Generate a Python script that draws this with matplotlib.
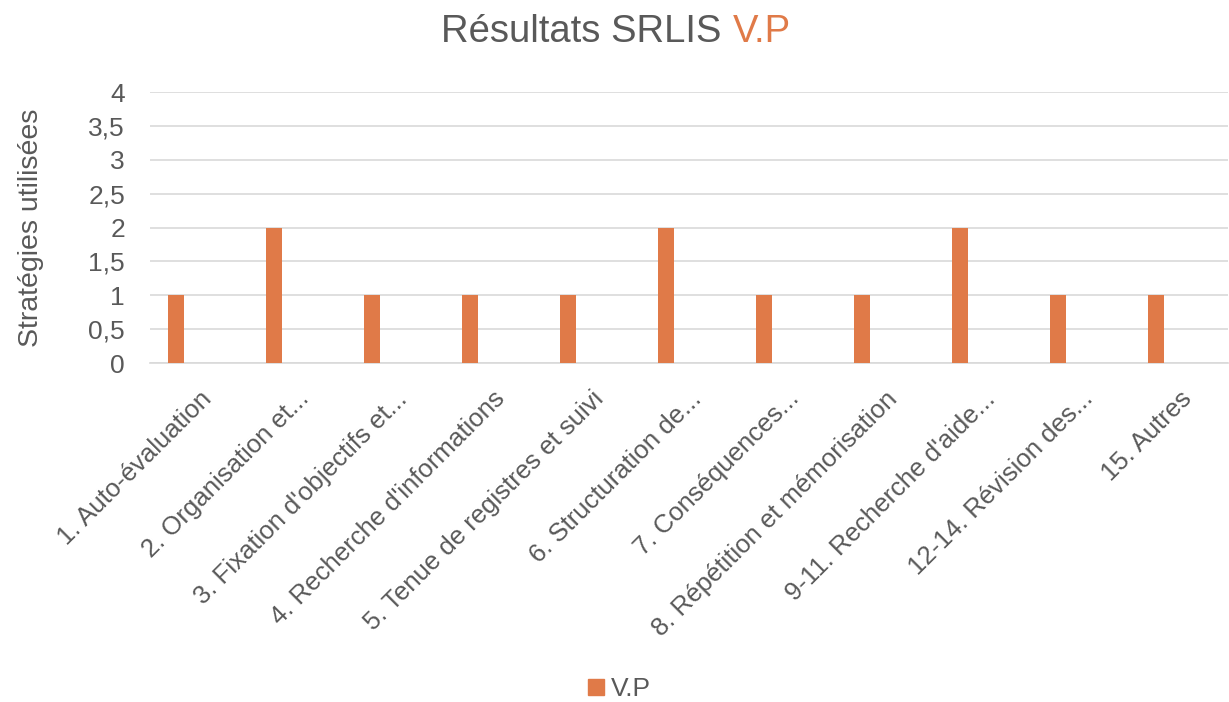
import numpy as np
import matplotlib
matplotlib.use("Agg")
from matplotlib import pyplot as plt
from matplotlib.patches import Patch

# data
categories = [
    "1. Auto-évaluation",
    "2. Organisation et...",
    "3. Fixation d'objectifs et...",
    "4. Recherche d'informations",
    "5. Tenue de registres et suivi",
    "6. Structuration de...",
    "7. Conséquences...",
    "8. Répétition et mémorisation",
    "9-11. Recherche d'aide...",
    "12-14. Révision des...",
    "15. Autres",
]
vp_values = [1, 2, 1, 1, 1, 2, 1, 1, 2, 1, 1]
y_ticks = [0, 0.5, 1, 1.5, 2, 2.5, 3, 3.5, 4]
y_tick_labels = ["0", "0,5", "1", "1,5", "2", "2,5", "3", "3,5", "4"]

bar_color = "#E07A48"
text_color = "#595959"
grid_color = "#D9D9D9"

plt.rcParams['font.family'] = ['Liberation Sans', 'DejaVu Sans']

fig = plt.figure(figsize=(12.29, 7.02), dpi=100)
ax = fig.add_axes([0.1221, 0.4829, 0.8771, 0.386])

x = np.arange(len(categories))
# bar sits left of slot center (clustered layout in the original)
ax.bar(x - 0.235, vp_values, width=0.17, color=bar_color, zorder=3)

ax.set_xlim(-0.5, len(categories) - 0.5)
ax.set_ylim(0, 4)
ax.set_yticks(y_ticks)
ax.set_yticklabels(y_tick_labels)
ax.yaxis.grid(True, color=grid_color, linewidth=1.2, zorder=0)
ax.set_axisbelow(True)

for s in ["top", "right", "left"]:
    ax.spines[s].set_visible(False)
ax.spines["bottom"].set_color(grid_color)
ax.spines["bottom"].set_linewidth(1.2)

ax.tick_params(axis="both", length=0, colors=text_color)
ax.tick_params(axis="y", pad=18, labelsize=19)
ax.set_xticks(x)
ax.set_xticklabels(categories, rotation=45, ha="right",
                   rotation_mode="anchor", color=text_color, fontsize=18.5)
ax.tick_params(axis="x", pad=17)

ax.set_ylabel("Stratégies utilisées", fontsize=20.5, color=text_color, labelpad=32)

# two-coloured title
fig.text(0.596, 0.955, "Résultats SRLIS ", ha="right", va="center",
         fontsize=27.5, color=text_color)
fig.text(0.596, 0.955, "V.P", ha="left", va="center",
         fontsize=27.5, color=bar_color)

fig.legend(handles=[Patch(color=bar_color, label="V.P")],
           loc="center", bbox_to_anchor=(0.504, 0.018), frameon=False,
           fontsize=19, handlelength=0.6, handleheight=0.6,
           handletextpad=0.25, labelcolor=text_color)

plt.savefig("out.png", dpi=100)
